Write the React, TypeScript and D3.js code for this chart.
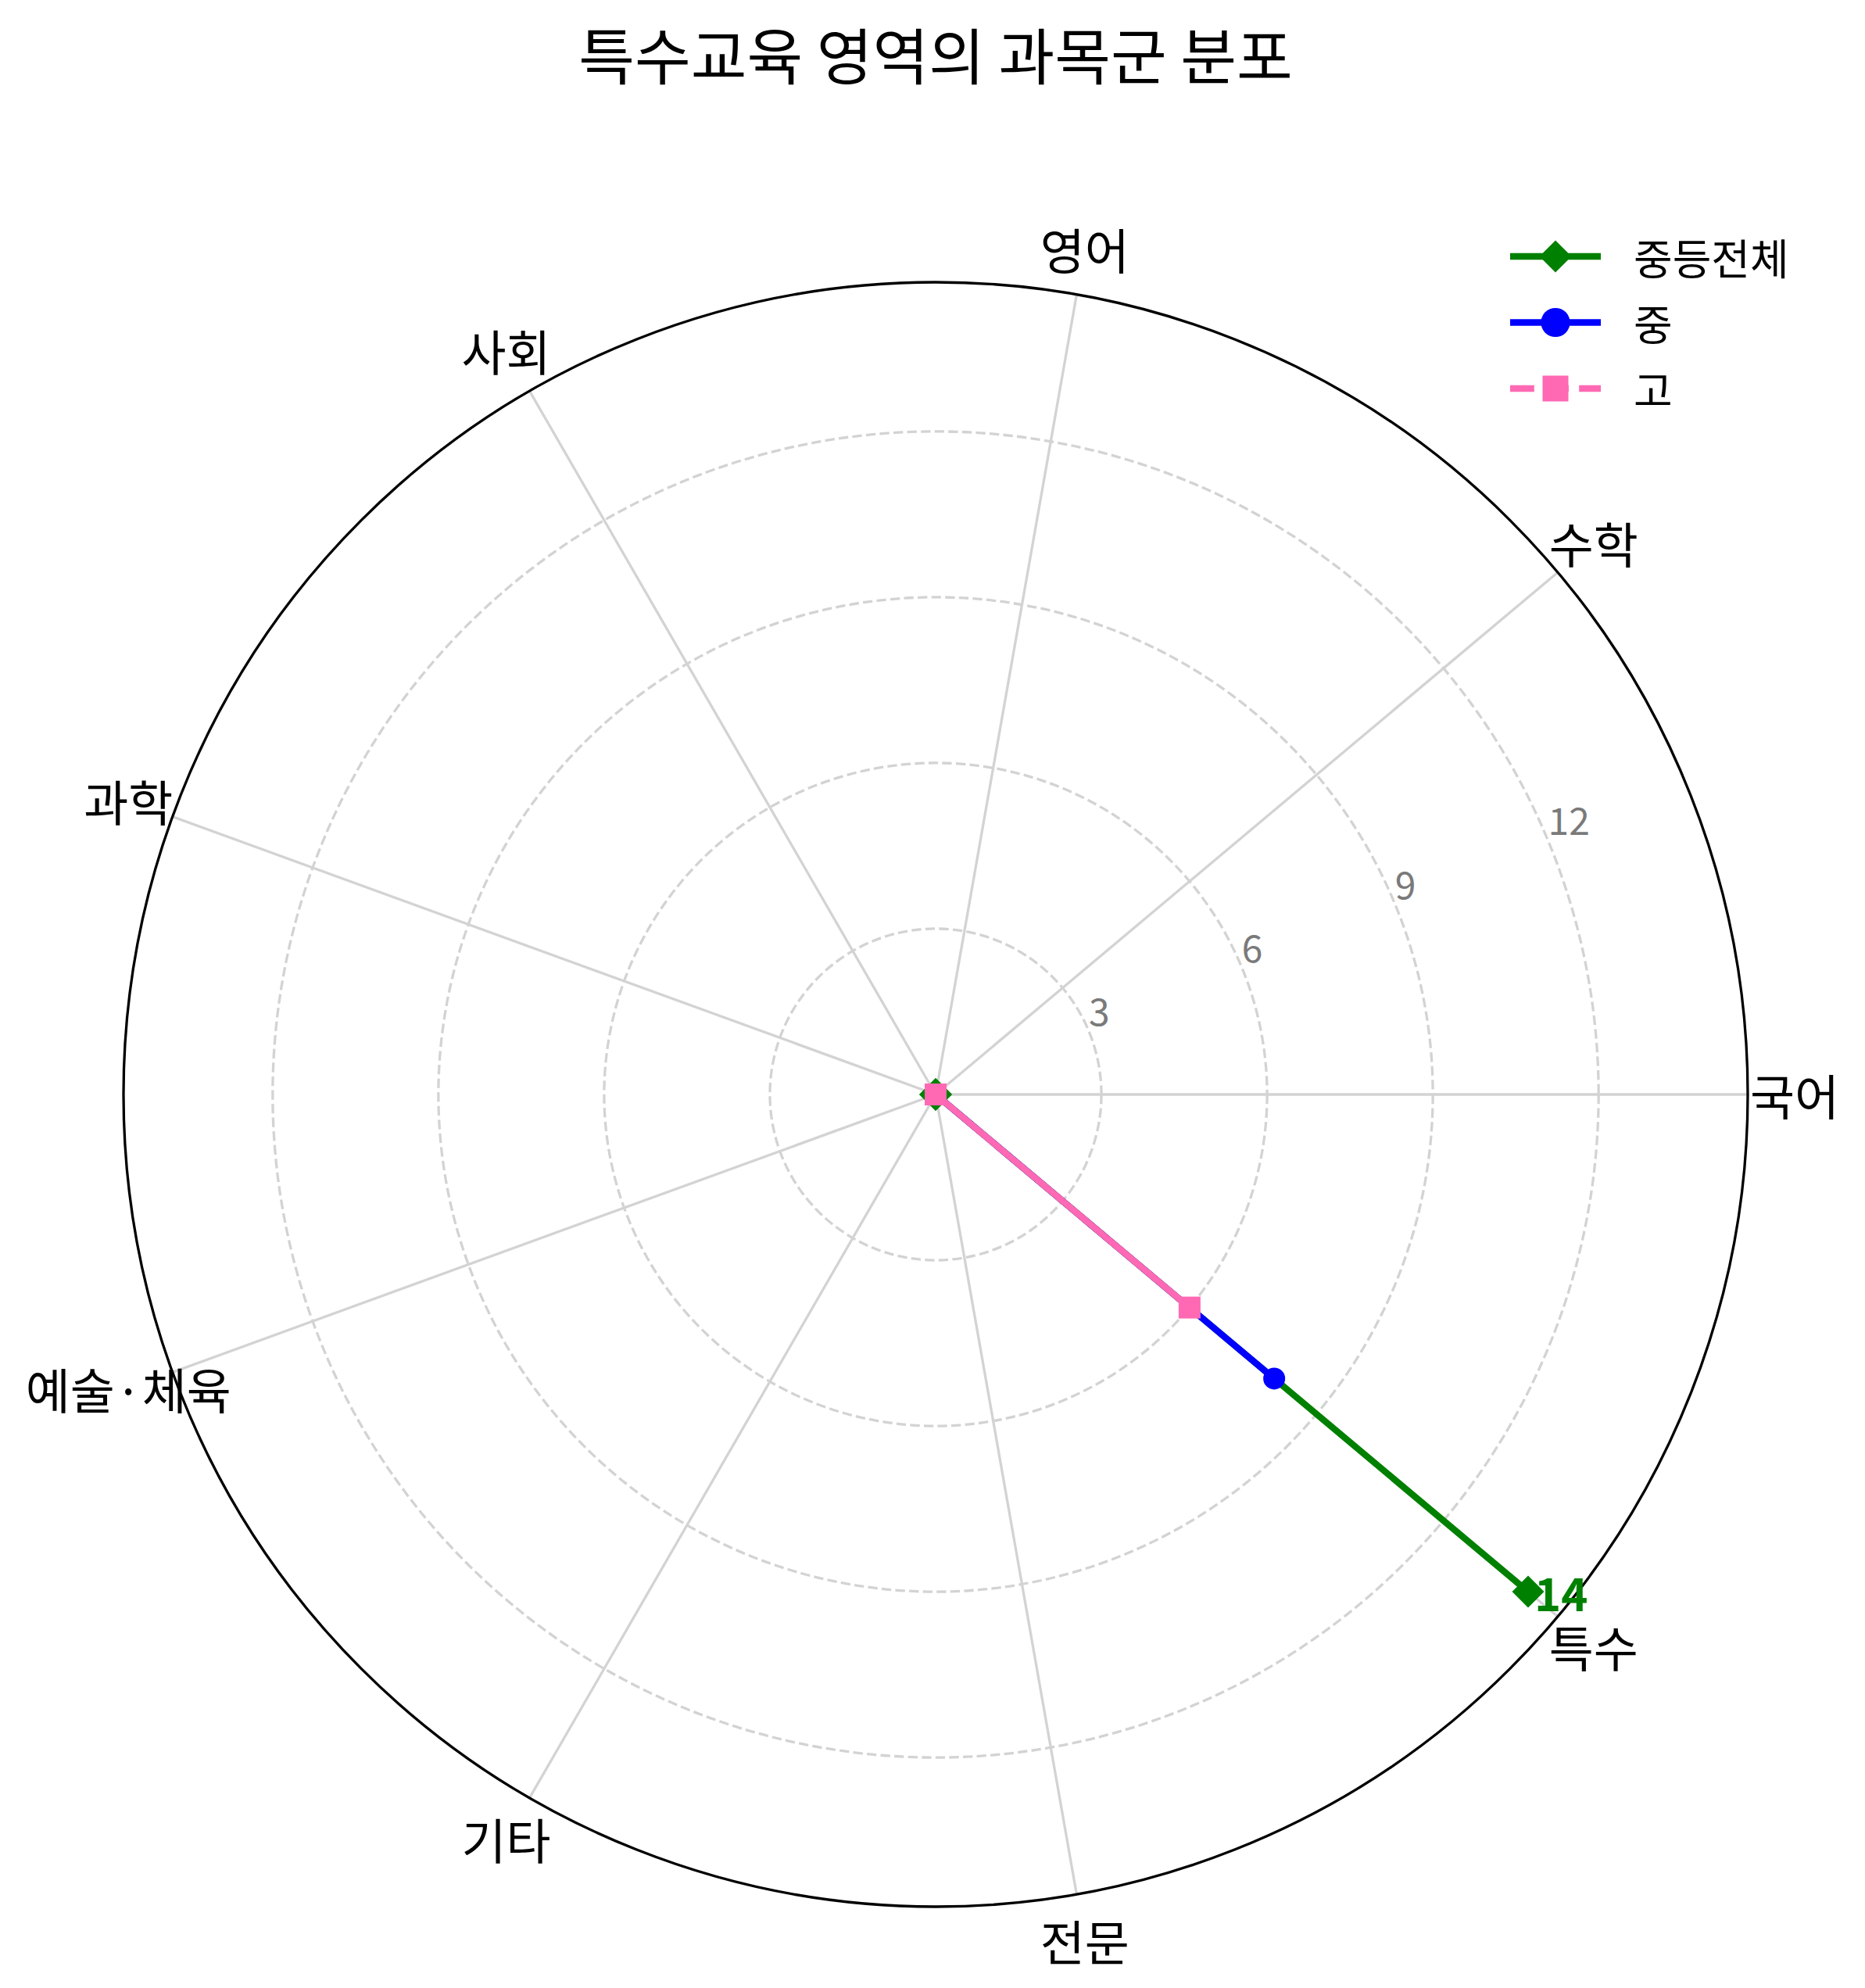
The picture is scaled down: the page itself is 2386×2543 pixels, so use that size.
import { useEffect, useRef } from 'react';
import * as d3 from 'd3';

const categories = ['국어', '수학', '영어', '사회', '과학', '예술·체육', '기타', '전문', '특수'];
const totalValues = [0, 0, 0, 0, 0, 0, 0, 0, 14];
const middleValues = [0, 0, 0, 0, 0, 0, 0, 0, 8];
const highValues = [0, 0, 0, 0, 0, 0, 0, 0, 6];
const radialTicks = [3, 6, 9, 12];
const radialMax = 14.7;
const seriesNames = ['중등전체', '중', '고'];

const WIDTH = 2386;
const HEIGHT = 2543;
const FONT = '"Noto Sans CJK KR", "Noto Sans", sans-serif';

export default function App() {
  const svgRef = useRef<SVGSVGElement>(null);

  useEffect(() => {
    if (!svgRef.current) return;
    document.body.style.margin = '0';

    d3.select(svgRef.current).selectAll('*').remove();

    const svg = d3
      .select(svgRef.current)
      .attr('width', WIDTH)
      .attr('height', HEIGHT);

    svg.append('rect').attr('width', WIDTH).attr('height', HEIGHT).attr('fill', 'white');

    const cx = 1197;
    const cy = 1400;
    const outerR = 1039;

    const rScale = d3.scaleLinear().domain([0, radialMax]).range([0, outerR]);
    // matplotlib-style angle: counterclockwise from east
    const theta = (i: number) => (i * 2 * Math.PI) / categories.length;
    const px = (i: number, r: number) => cx + r * Math.cos(theta(i));
    const py = (i: number, r: number) => cy - r * Math.sin(theta(i));

    const g = svg.append('g');
    const gridColor = '#d3d3d3';

    // Dashed radial rings
    g.append('g')
      .selectAll('circle')
      .data(radialTicks)
      .join('circle')
      .attr('cx', cx)
      .attr('cy', cy)
      .attr('r', (d) => rScale(d))
      .attr('fill', 'none')
      .attr('stroke', gridColor)
      .attr('stroke-width', 3.3)
      .attr('stroke-dasharray', '12.3,5.3');

    // Spokes
    g.append('g')
      .selectAll('line')
      .data(categories)
      .join('line')
      .attr('x1', cx)
      .attr('y1', cy)
      .attr('x2', (_, i) => px(i, outerR))
      .attr('y2', (_, i) => py(i, outerR))
      .attr('stroke', gridColor)
      .attr('stroke-width', 3.3);

    // Outer frame
    g.append('circle')
      .attr('cx', cx)
      .attr('cy', cy)
      .attr('r', outerR)
      .attr('fill', 'none')
      .attr('stroke', 'black')
      .attr('stroke-width', 3.3);

    // Radial tick labels at 22.5 degrees
    const labelAngle = (22.5 * Math.PI) / 180;
    g.append('g')
      .selectAll('text')
      .data(radialTicks)
      .join('text')
      .attr('x', (d) => cx + rScale(d) * Math.cos(labelAngle))
      .attr('y', (d) => cy - rScale(d) * Math.sin(labelAngle) - 7)
      .attr('text-anchor', 'start')
      .attr('fill', '#7a7a7a')
      .attr('font-family', FONT)
      .attr('font-size', '48px')
      .text((d) => d);

    // Category labels
    g.append('g')
      .selectAll('text')
      .data(categories)
      .join('text')
      .attr('x', (_, i) => px(i, 1099))
      .attr('y', (_, i) => py(i, 1099))
      .attr('text-anchor', 'middle')
      .attr('dominant-baseline', 'central')
      .attr('fill', 'black')
      .attr('font-family', FONT)
      .attr('font-size', '62px')
      .text((d) => d);

    // Series
    const line = d3
      .lineRadial<number>()
      .angle((_, i) => Math.PI / 2 - theta(i))
      .radius((d) => rScale(d))
      .curve(d3.curveLinearClosed);

    const plotG = g.append('g').attr('transform', `translate(${cx},${cy})`);

    const series = [
      { name: seriesNames[0], values: totalValues, color: 'green', dash: null, symbol: d3.symbolSquare, size: 841, rotate: 45 },
      { name: seriesNames[1], values: middleValues, color: 'blue', dash: null, symbol: d3.symbolCircle, size: 616, rotate: 0 },
      { name: seriesNames[2], values: highValues, color: '#ff69b4', dash: '30.8,13.3', symbol: d3.symbolSquare, size: 784, rotate: 0 },
    ];

    series.forEach((s) => {
      plotG
        .append('path')
        .datum(s.values)
        .attr('d', line)
        .attr('fill', 'none')
        .attr('stroke', s.color)
        .attr('stroke-width', 8.3)
        .attr('stroke-linejoin', 'round')
        .attr('stroke-dasharray', s.dash);

      const sym = d3.symbol().type(s.symbol).size(s.size);
      g.append('g')
        .selectAll('path')
        .data(s.values)
        .join('path')
        .attr('d', sym)
        .attr('transform', (d, i) => `translate(${px(i, rScale(d))},${py(i, rScale(d))}) rotate(${s.rotate})`)
        .attr('fill', s.color);
    });

    // Value label for the maximum of 중등전체
    const maxIdx = totalValues.indexOf(d3.max(totalValues) as number);
    g.append('text')
      .attr('x', px(maxIdx, rScale(totalValues[maxIdx])) + 8)
      .attr('y', py(maxIdx, rScale(totalValues[maxIdx])))
      .attr('dominant-baseline', 'central')
      .attr('fill', 'green')
      .attr('font-family', FONT)
      .attr('font-weight', 'bold')
      .attr('font-size', '58px')
      .text(totalValues[maxIdx]);

    // Title
    svg
      .append('text')
      .attr('x', cx)
      .attr('y', 68)
      .attr('text-anchor', 'middle')
      .attr('dominant-baseline', 'central')
      .attr('fill', 'black')
      .attr('font-family', FONT)
      .attr('font-size', '78px')
      .text('특수교육 영역의 과목군 분포');

    // Legend
    const legend = svg.append('g').attr('transform', 'translate(1932, 328)');
    series.forEach((s, i) => {
      const item = legend.append('g').attr('transform', `translate(0, ${i * 84.5})`);
      item
        .append('line')
        .attr('x1', 0)
        .attr('x2', 116)
        .attr('stroke', s.color)
        .attr('stroke-width', 8.3)
        .attr('stroke-dasharray', s.dash);
      item
        .append('path')
        .attr('d', d3.symbol().type(s.symbol).size(s.rotate ? 841 : 1089)())
        .attr('transform', `translate(58,0) rotate(${s.rotate})`)
        .attr('fill', s.color);
      item
        .append('text')
        .attr('x', 158)
        .attr('y', 0)
        .attr('dominant-baseline', 'central')
        .attr('fill', 'black')
        .attr('font-family', FONT)
        .attr('font-size', '54px')
        .text(s.name);
    });
  }, []);

  return <svg ref={svgRef} style={{ display: 'block' }} />;
}
